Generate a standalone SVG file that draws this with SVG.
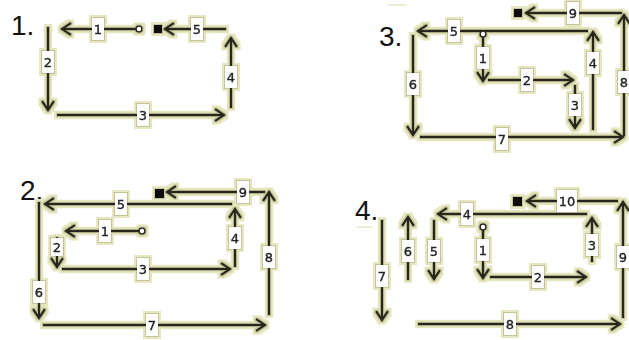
<svg xmlns="http://www.w3.org/2000/svg" width="629" height="340" viewBox="0 0 629 340">
<style>
.c{fill:none;stroke:#26261a;stroke-width:2.4;marker-end:url(#ah)}
.lb rect{fill:#fff;stroke:none}
.lb text{font-family:"DejaVu Sans","Liberation Sans",sans-serif;font-size:13px;fill:#222;stroke:#222;stroke-width:0.35;text-anchor:middle}
.ttl{font-family:"Liberation Sans",Arial,sans-serif;font-size:28px;fill:#111}
.st{fill:#fff;stroke:#26261a;stroke-width:1.6}
.en{fill:#111}
.fl{stroke:#e4e4c8;stroke-width:1.5}
</style>
<defs>
<marker id="ah" markerUnits="userSpaceOnUse" viewBox="-12 -10 14 20" markerWidth="14" markerHeight="20" refX="0" refY="0" orient="auto" overflow="visible">
<path d="M-9,-6 L0,0 L-9,6" fill="none" stroke="#26261a" stroke-width="2.4"/>
</marker>
<filter id="glow" x="-5%" y="-10%" width="110%" height="120%">
<feMorphology in="SourceAlpha" operator="dilate" radius="3.2" result="d"/>
<feFlood flood-color="#e6e6c0"/>
<feComposite in2="d" operator="in" result="h"/>
<feMorphology in="SourceAlpha" operator="dilate" radius="1.4" result="d2"/>
<feFlood flood-color="#c4c49a"/>
<feComposite in2="d2" operator="in" result="h2"/>
<feMerge><feMergeNode in="h"/><feMergeNode in="h2"/><feMergeNode in="SourceGraphic"/></feMerge>
</filter>
</defs>
<rect width="629" height="340" fill="#fff"/>
<line class="fl" x1="387" y1="5" x2="407" y2="5"/>
<line class="fl" x1="357" y1="227" x2="373" y2="227"/>
<g id="title1"><text class="ttl" x="11" y="35">1.</text></g>
<g id="title2"><text class="ttl" x="20" y="200">2.</text></g>
<g id="title3"><text class="ttl" x="379" y="46">3.</text></g>
<g id="title4"><text class="ttl" x="355" y="220">4.</text></g>
<g filter="url(#glow)">
<g id="connectors">
<!-- diagram 1 -->
<path class="c" d="M136,29 H62"/>
<path class="c" d="M226,29 H165"/>
<path class="c" d="M48,27 V110"/>
<path class="c" d="M57,115 H224"/>
<path class="c" d="M231,108 V38"/>
<!-- diagram 2 -->
<path class="c" d="M232,204 H45"/>
<path class="c" d="M265,192 H167"/>
<path class="c" d="M139,231 H66"/>
<path class="c" d="M57,237 V267"/>
<path class="c" d="M62,269 H230"/>
<path class="c" d="M235,267 V209"/>
<path class="c" d="M39,202 V318"/>
<path class="c" d="M43,325 H265"/>
<path class="c" d="M269,315 V192"/>
<!-- diagram 3 -->
<path class="c" d="M588,31 H418"/>
<path class="c" d="M483,37 V81"/>
<path class="c" d="M488,80 H573"/>
<path class="c" d="M575,85 V128"/>
<path class="c" d="M593,130 V32"/>
<path class="c" d="M413,35 V135"/>
<path class="c" d="M420,137 H623"/>
<path class="c" d="M624,136 V15"/>
<path class="c" d="M622,13 H526"/>
<!-- diagram 4 -->
<path class="c" d="M618,201 H527"/>
<path class="c" d="M587,214 H438"/>
<path class="c" d="M483,230 V278"/>
<path class="c" d="M490,277 H586"/>
<path class="c" d="M592,262 V218"/>
<path class="c" d="M434,220 V279"/>
<path class="c" d="M408,280 V217"/>
<path class="c" d="M382,220 V320"/>
<path class="c" d="M418,324 H620"/>
<path class="c" d="M623,318 V202"/>
<!-- labels -->
<g class="lb" transform="translate(98,29)"><rect x="-6" y="-11" width="12" height="22"/><text y="5">1</text></g>
<g class="lb" transform="translate(197,29)"><rect x="-6" y="-11" width="12" height="22"/><text y="5">5</text></g>
<g class="lb" transform="translate(48,62)"><rect x="-6" y="-11" width="12" height="22"/><text y="5">2</text></g>
<g class="lb" transform="translate(143,115)"><rect x="-6" y="-11" width="12" height="22"/><text y="5">3</text></g>
<g class="lb" transform="translate(231,77)"><rect x="-6" y="-11" width="12" height="22"/><text y="5">4</text></g>

<g class="lb" transform="translate(121,204)"><rect x="-6" y="-11" width="12" height="22"/><text y="5">5</text></g>
<g class="lb" transform="translate(243,192)"><rect x="-6" y="-11" width="12" height="22"/><text y="5">9</text></g>
<g class="lb" transform="translate(105,231)"><rect x="-6" y="-11" width="12" height="22"/><text y="5">1</text></g>
<g class="lb" transform="translate(57,247)"><rect x="-6" y="-9" width="12" height="18"/><text y="5">2</text></g>
<g class="lb" transform="translate(143,269)"><rect x="-6" y="-11" width="12" height="22"/><text y="5">3</text></g>
<g class="lb" transform="translate(235,238)"><rect x="-6" y="-11" width="12" height="22"/><text y="5">4</text></g>
<g class="lb" transform="translate(39,292)"><rect x="-6" y="-11" width="12" height="22"/><text y="5">6</text></g>
<g class="lb" transform="translate(152,325)"><rect x="-6" y="-11" width="12" height="22"/><text y="5">7</text></g>
<g class="lb" transform="translate(269,257)"><rect x="-6" y="-11" width="12" height="22"/><text y="5">8</text></g>

<g class="lb" transform="translate(454,31)"><rect x="-6" y="-11" width="12" height="22"/><text y="5">5</text></g>
<g class="lb" transform="translate(483,58)"><rect x="-6" y="-11" width="12" height="22"/><text y="5">1</text></g>
<g class="lb" transform="translate(527,80)"><rect x="-6" y="-11" width="12" height="22"/><text y="5">2</text></g>
<g class="lb" transform="translate(575,105)"><rect x="-6" y="-11" width="12" height="22"/><text y="5">3</text></g>
<g class="lb" transform="translate(593,63)"><rect x="-6" y="-11" width="12" height="22"/><text y="5">4</text></g>
<g class="lb" transform="translate(413,84)"><rect x="-6" y="-11" width="12" height="22"/><text y="5">6</text></g>
<g class="lb" transform="translate(502,139)"><rect x="-6" y="-11" width="12" height="22"/><text y="5">7</text></g>
<g class="lb" transform="translate(624,82)"><rect x="-6" y="-11" width="12" height="22"/><text y="5">8</text></g>
<g class="lb" transform="translate(573,13)"><rect x="-6" y="-11" width="12" height="22"/><text y="5">9</text></g>

<g class="lb" transform="translate(567,201)"><rect x="-10" y="-11" width="20" height="22"/><text y="5">10</text></g>
<g class="lb" transform="translate(467,214)"><rect x="-6" y="-11" width="12" height="22"/><text y="5">4</text></g>
<g class="lb" transform="translate(483,250)"><rect x="-6" y="-11" width="12" height="22"/><text y="5">1</text></g>
<g class="lb" transform="translate(538,277)"><rect x="-6" y="-11" width="12" height="22"/><text y="5">2</text></g>
<g class="lb" transform="translate(592,245)"><rect x="-6" y="-11" width="12" height="22"/><text y="5">3</text></g>
<g class="lb" transform="translate(434,251)"><rect x="-6" y="-11" width="12" height="22"/><text y="5">5</text></g>
<g class="lb" transform="translate(408,251)"><rect x="-6" y="-11" width="12" height="22"/><text y="5">6</text></g>
<g class="lb" transform="translate(382,276)"><rect x="-6" y="-11" width="12" height="22"/><text y="5">7</text></g>
<g class="lb" transform="translate(510,324)"><rect x="-6" y="-11" width="12" height="22"/><text y="5">8</text></g>
<g class="lb" transform="translate(623,257)"><rect x="-6" y="-11" width="12" height="22"/><text y="5">9</text></g>
</g>
<g id="start1"><circle class="st" cx="139" cy="29" r="3"/></g>
<g id="end1"><rect class="en" x="154" y="25" width="8" height="8"/></g>
<g id="start2"><circle class="st" cx="142" cy="231" r="3"/></g>
<g id="end2"><rect class="en" x="155" y="189" width="9" height="9"/></g>
<g id="start3"><circle class="st" cx="483" cy="34" r="3"/></g>
<g id="end3"><rect class="en" x="514" y="9" width="8" height="8"/></g>
<g id="start4"><circle class="st" cx="483" cy="227" r="3"/></g>
<g id="end4"><rect class="en" x="513" y="197" width="9" height="9"/></g>
</g>
</svg>
